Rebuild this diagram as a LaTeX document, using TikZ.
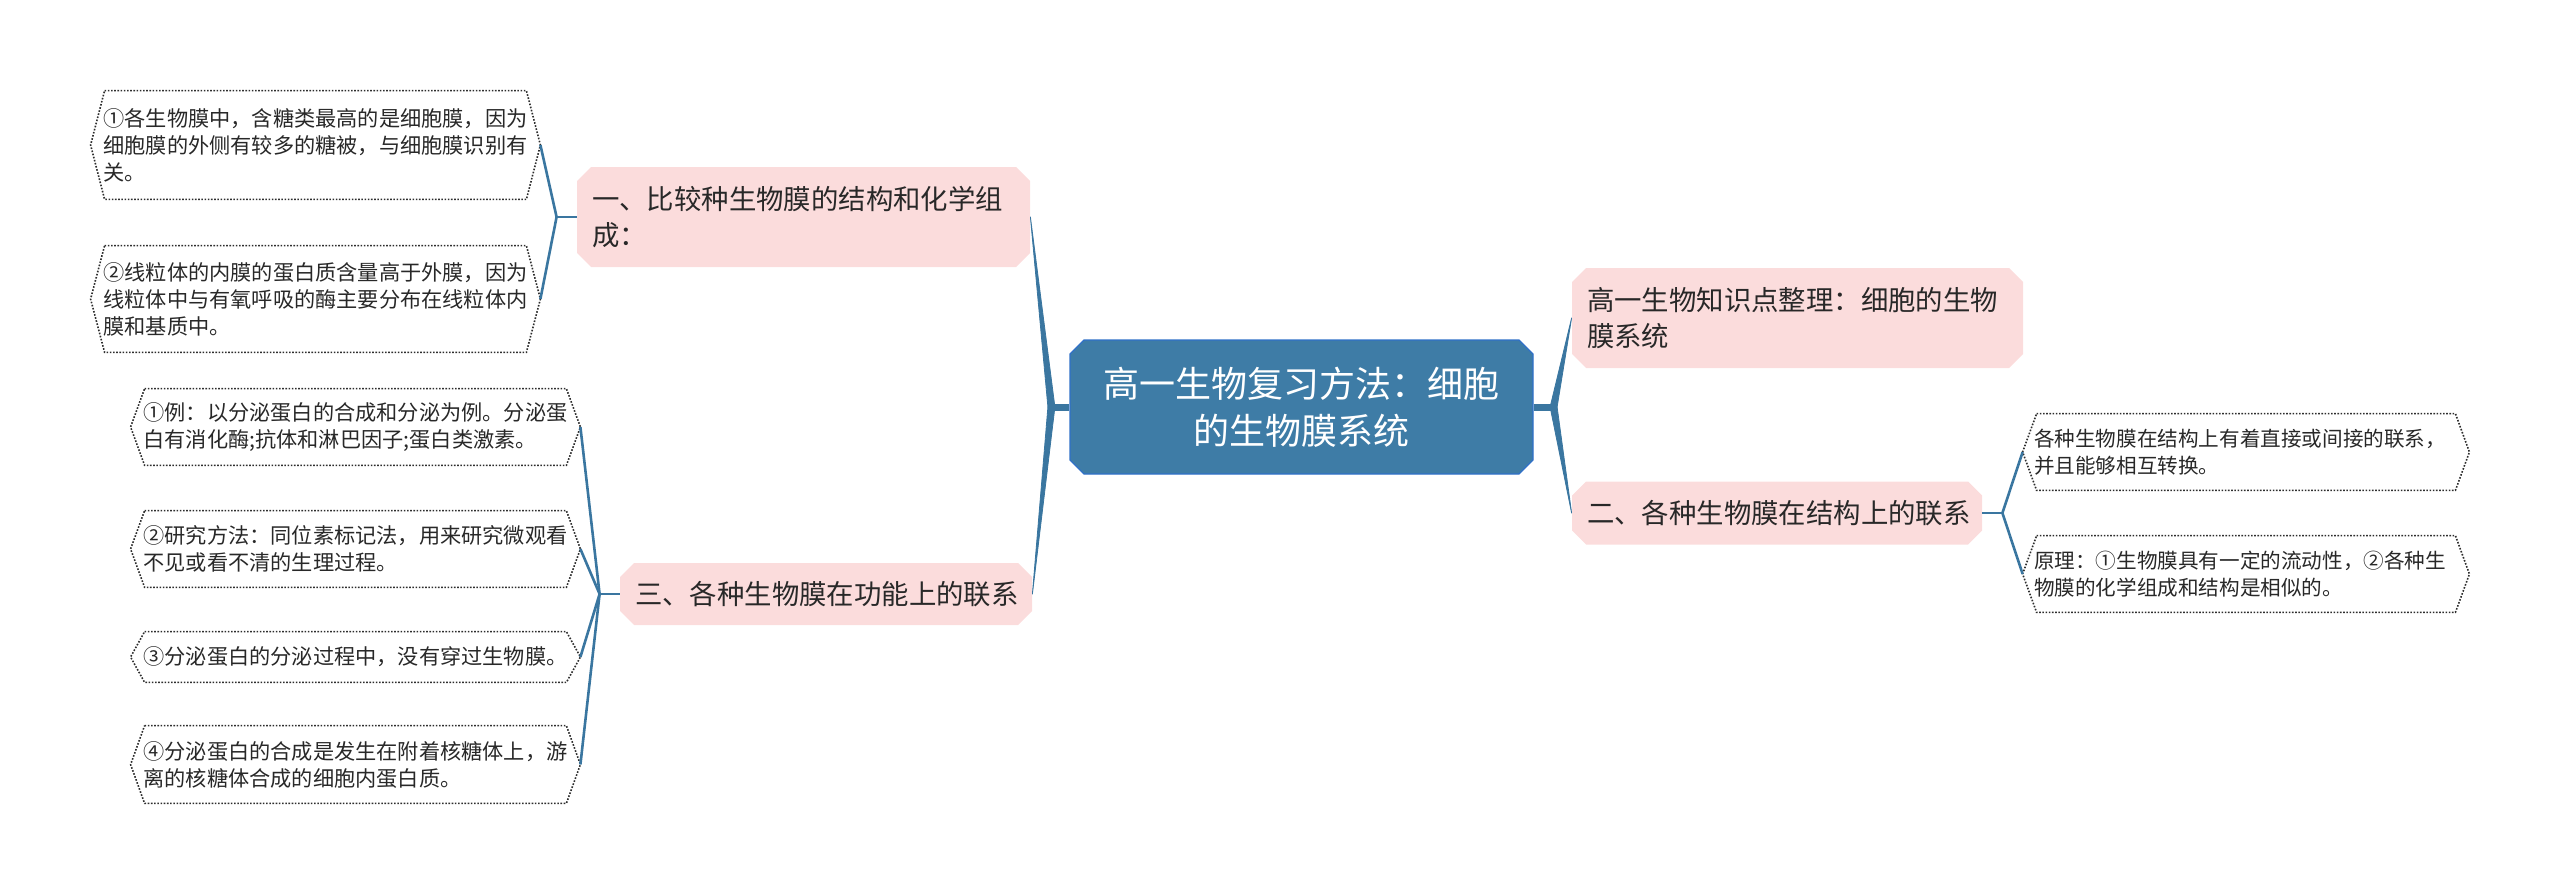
\documentclass[tikz,border=0pt]{standalone}
\usepackage{fontspec}
\setmainfont{Noto Sans CJK SC}
\usetikzlibrary{shapes.misc,calc}

\definecolor{rootblue}{RGB}{62,124,166}
\definecolor{rootedge}{RGB}{48,112,200}
\definecolor{branchblue}{RGB}{58,118,160}
\definecolor{pinkbox}{RGB}{251,220,220}
\definecolor{leaftext}{RGB}{40,40,40}
\definecolor{edgegray}{RGB}{45,45,45}

\tikzset{
  rootbox/.style={chamfered rectangle, chamfered rectangle xsep=3.5pt, chamfered rectangle ysep=3.5pt,
    fill=rootblue, draw=rootedge, line width=0.6pt, text=white, inner sep=0pt,
    font=\fontsize{18}{23.5}\selectfont, align=center, text width=215pt},
  topicbox/.style={chamfered rectangle, chamfered rectangle xsep=3.5pt, chamfered rectangle ysep=3.5pt,
    fill=pinkbox, text=leaftext, inner sep=0pt, font=\fontsize{13.7}{18}\selectfont, align=left},
  leafbox/.style={rectangle, inner sep=0pt, text=leaftext, font=\fontsize{10.6}{13.5}\selectfont,
    align=left, text width=212pt, minimum width=224.5pt},
  leafedge/.style={draw=edgegray, line width=0.8pt, dash pattern=on 0.8pt off 0.8pt},
  twig/.style={draw=branchblue, line width=1.3pt},
  trunk/.style={fill=branchblue, draw=branchblue, line width=0.4pt, line join=round},
}

\begin{document}
\begin{tikzpicture}[x=0.5pt,y=-0.5pt]
  \useasboundingbox (0,0) rectangle (2560,894);

  % centre topic
  \node[rootbox, minimum width=231.5pt, minimum height=67pt] (root) at (1301.5,407)
    {高一生物复习方法：细胞\\的生物膜系统};

  % first level, left and right
  \node[topicbox, text width=211.5pt, minimum width=226.5pt, minimum height=50pt] (cmp) at (803.5,217)
    {一、比较种生物膜的结构和化学组\\成：};
  \node[topicbox, text width=191pt, minimum width=206pt, minimum height=31pt] (func) at (826,594)
    {三、各种生物膜在功能上的联系};
  \node[topicbox, text width=210.5pt, minimum width=225.5pt, minimum height=50pt] (note) at (1797.5,318)
    {高一生物知识点整理：细胞的生物\\膜系统};
  \node[topicbox, text width=190pt, minimum width=205pt, minimum height=31.5pt] (link) at (1777,513)
    {二、各种生物膜在结构上的联系};

  % leaves
  \node[leafbox, minimum height=54pt] (cmpa) at (315.5,145)
    {①各生物膜中，含糖类最高的是细胞膜，因为\\细胞膜的外侧有较多的糖被，与细胞膜识别有\\关。};
  \node[leafbox, minimum height=53pt] (cmpb) at (315.5,299)
    {②线粒体的内膜的蛋白质含量高于外膜，因为\\线粒体中与有氧呼吸的酶主要分布在线粒体内\\膜和基质中。};
  \node[leafbox, minimum height=38pt] (funca) at (355.5,427)
    {①例：以分泌蛋白的合成和分泌为例。分泌蛋\\白有消化酶;抗体和淋巴因子;蛋白类激素。};
  \node[leafbox, minimum height=38pt] (funcb) at (355.5,549)
    {②研究方法：同位素标记法，用来研究微观看\\不见或看不清的生理过程。};
  \node[leafbox, minimum height=25pt] (funcc) at (355.5,657)
    {③分泌蛋白的分泌过程中，没有穿过生物膜。};
  \node[leafbox, minimum height=38.5pt] (funcd) at (355.5,764.5)
    {④分泌蛋白的合成是发生在附着核糖体上，游\\离的核糖体合成的细胞内蛋白质。};
  \node[leafbox, minimum width=223pt, minimum height=38pt, font=\fontsize{10.3}{13.5}\selectfont] (linka) at (2246,452)
    {各种生物膜在结构上有着直接或间接的联系，\\并且能够相互转换。};
  \node[leafbox, minimum width=223pt, minimum height=38pt, font=\fontsize{10.3}{13.5}\selectfont] (linkb) at (2246,574)
    {原理：①生物膜具有一定的流动性，②各种生\\物膜的化学组成和结构是相似的。};

  % dotted hexagons round the leaves
  \foreach \n in {cmpa,cmpb,funca,funcb,funcc,funcd,linka,linkb}
    \draw[leafedge] ($(\n.north west)+(14,0)$) -- ($(\n.north east)+(-14,0)$) -- (\n.east)
      -- ($(\n.south east)+(-14,0)$) -- ($(\n.south west)+(14,0)$) -- (\n.west) -- cycle;

  % tapered branches from the centre
  \coordinate (jl) at ($(root.west)+(-18,0)$);
  \coordinate (jr) at ($(root.east)+(20,0)$);
  \draw[twig, line width=3.5pt] (root.west) -- (jl);
  \draw[twig, line width=3.5pt] (root.east) -- (jr);
  \foreach \t in {cmp,func}
    \filldraw[trunk] ($(jl)+(-3.5,0)$) -- (\t.east) -- ($(jl)+(3.5,0)$) -- cycle;
  \foreach \t in {note,link}
    \filldraw[trunk] ($(jr)+(-3.5,0)$) -- (\t.west) -- ($(jr)+(3.5,0)$) -- cycle;

  % thin branches to the leaves
  \coordinate (jc) at ($(cmp.west)+(-20,0)$);
  \coordinate (jf) at ($(func.west)+(-20,0)$);
  \coordinate (jk) at ($(link.east)+(20,0)$);
  \draw[twig] (cmp.west) -- (jc);
  \draw[twig] (func.west) -- (jf);
  \draw[twig] (link.east) -- (jk);
  \foreach \l in {cmpa,cmpb}
    \draw[twig] (jc) -- (\l.east);
  \foreach \l in {funca,funcb,funcc,funcd}
    \draw[twig] (jf) -- (\l.east);
  \foreach \l in {linka,linkb}
    \draw[twig] (jk) -- (\l.west);
\end{tikzpicture}
\end{document}
